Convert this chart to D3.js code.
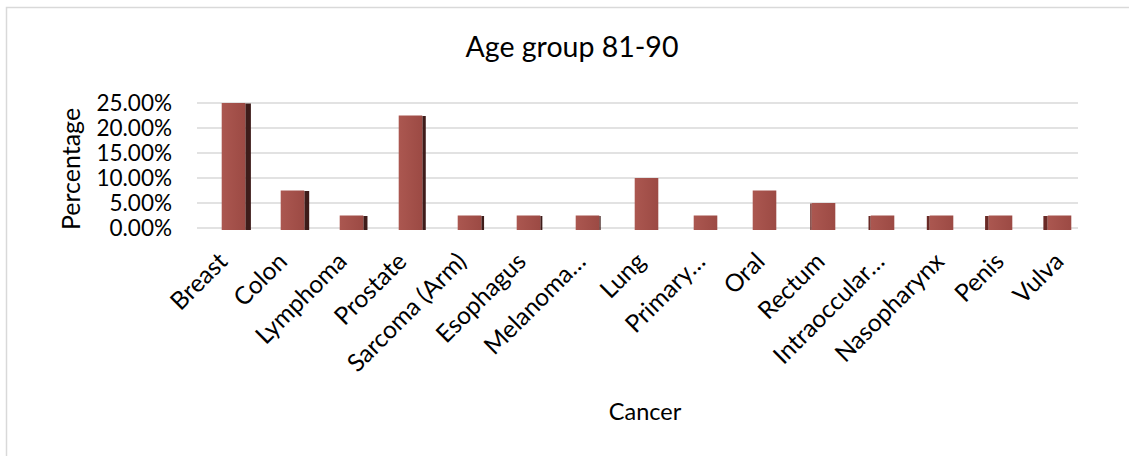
<!DOCTYPE html>
<html>
<head>
<meta charset="utf-8">
<script src="https://cdn.jsdelivr.net/npm/d3@7"></script>
<style>
  html, body { margin: 0; padding: 0; background: #fff; }
  svg { display: block; font-family: Lato, "Open Sans", sans-serif; }
</style>
</head>
<body>
<svg id="chart" width="1129" height="456"></svg>
<script>
// Share of cases per cancer type, age group 81-90
const categories = ["Breast", "Colon", "Lymphoma", "Prostate", "Sarcoma (Arm)", "Esophagus",
  "Melanoma\u2026", "Lung", "Primary\u2026", "Oral", "Rectum", "Intraoccular\u2026",
  "Nasopharynx", "Penis", "Vulva"];
const values = [0.25, 0.075, 0.025, 0.225, 0.025, 0.025, 0.025, 0.10, 0.025, 0.075, 0.05,
  0.025, 0.025, 0.025, 0.025];
const yTicks = [0, 0.05, 0.10, 0.15, 0.20, 0.25];

const svg = d3.select("#chart");

// outer chart frame
svg.append("rect")
  .attr("x", 6.5).attr("y", 7.5).attr("width", 1140).attr("height", 470)
  .attr("fill", "none").attr("stroke", "#d9d9d9").attr("stroke-width", 1.5);

const y = d3.scaleLinear().domain([0, 0.25]).range([228, 103]);
// bars sit on the floor in front of the back wall, so they use a slightly shifted band
const x = d3.scaleBand().domain(categories).range([204, 1089]).paddingInner(0.6).paddingOuter(0.3);
// category labels follow the floor edge
const xLab = d3.scaleBand().domain(categories).range([199, 1095]);

// back-wall gridlines
const grid = svg.append("g");
grid.selectAll("line").data(yTicks).join("line")
  .attr("x1", 197).attr("x2", 1078)
  .attr("y1", d => y(d)).attr("y2", d => y(d))
  .attr("stroke", "#d9d9d9").attr("stroke-width", 1.5);

// y axis labels
const yAxis = d3.axisLeft(y).tickValues(yTicks).tickSize(0).tickPadding(0)
  .tickFormat(d3.format(".2%"));
const ya = svg.append("g").attr("transform", "translate(172,0)").call(yAxis);
ya.select(".domain").remove();
ya.selectAll("text").attr("font-size", 22.5).attr("fill", "#000").attr("font-family", "Lato");

// 3D columns: front face plus a shaded side face toward the vanishing point
const vanish = 700;
const defs = svg.append("defs");
const grad = defs.append("linearGradient").attr("id", "front").attr("x1", 0).attr("x2", 1);
grad.append("stop").attr("offset", "0%").attr("stop-color", "#ab5750");
grad.append("stop").attr("offset", "100%").attr("stop-color", "#9c4a44");

const bars = svg.append("g");
categories.forEach((c, i) => {
  const x0 = x(c), w = x.bandwidth();
  const cx = x0 + w / 2;
  const top = y(values[i]), bot = y(0) + 2;
  const side = Math.min(6, Math.abs(cx - vanish) * 0.012);
  if (side > 0.8) {
    const sx = cx < vanish ? x0 + w : x0 - side;
    bars.append("rect").attr("x", sx).attr("y", top + 0.5)
      .attr("width", side).attr("height", bot - top - 0.5)
      .attr("fill", cx < vanish ? "#3e1c1a" : "#6a2a26");
  }
  bars.append("rect").attr("x", x0).attr("y", top).attr("width", w).attr("height", bot - top)
    .attr("fill", "url(#front)");
});

// x axis category labels, rotated
const xl = svg.append("g");
xl.selectAll("text").data(categories).join("text")
  .attr("transform", d => `translate(${xLab(d) + xLab.bandwidth() / 2},263) rotate(-45)`)
  .attr("text-anchor", "end")
  .attr("font-size", 24.5).attr("fill", "#000")
  .text(d => d);

// titles
svg.append("text").attr("x", 572).attr("y", 57).attr("text-anchor", "middle")
  .attr("font-size", 28.5).attr("fill", "#000").text("Age group 81-90");
svg.append("text").attr("x", 645).attr("y", 420).attr("text-anchor", "middle")
  .attr("font-size", 23.5).attr("fill", "#000").text("Cancer");
svg.append("text").attr("transform", "translate(80,169) rotate(-90)").attr("text-anchor", "middle")
  .attr("font-size", 25).attr("fill", "#000").text("Percentage");
</script>
</body>
</html>
